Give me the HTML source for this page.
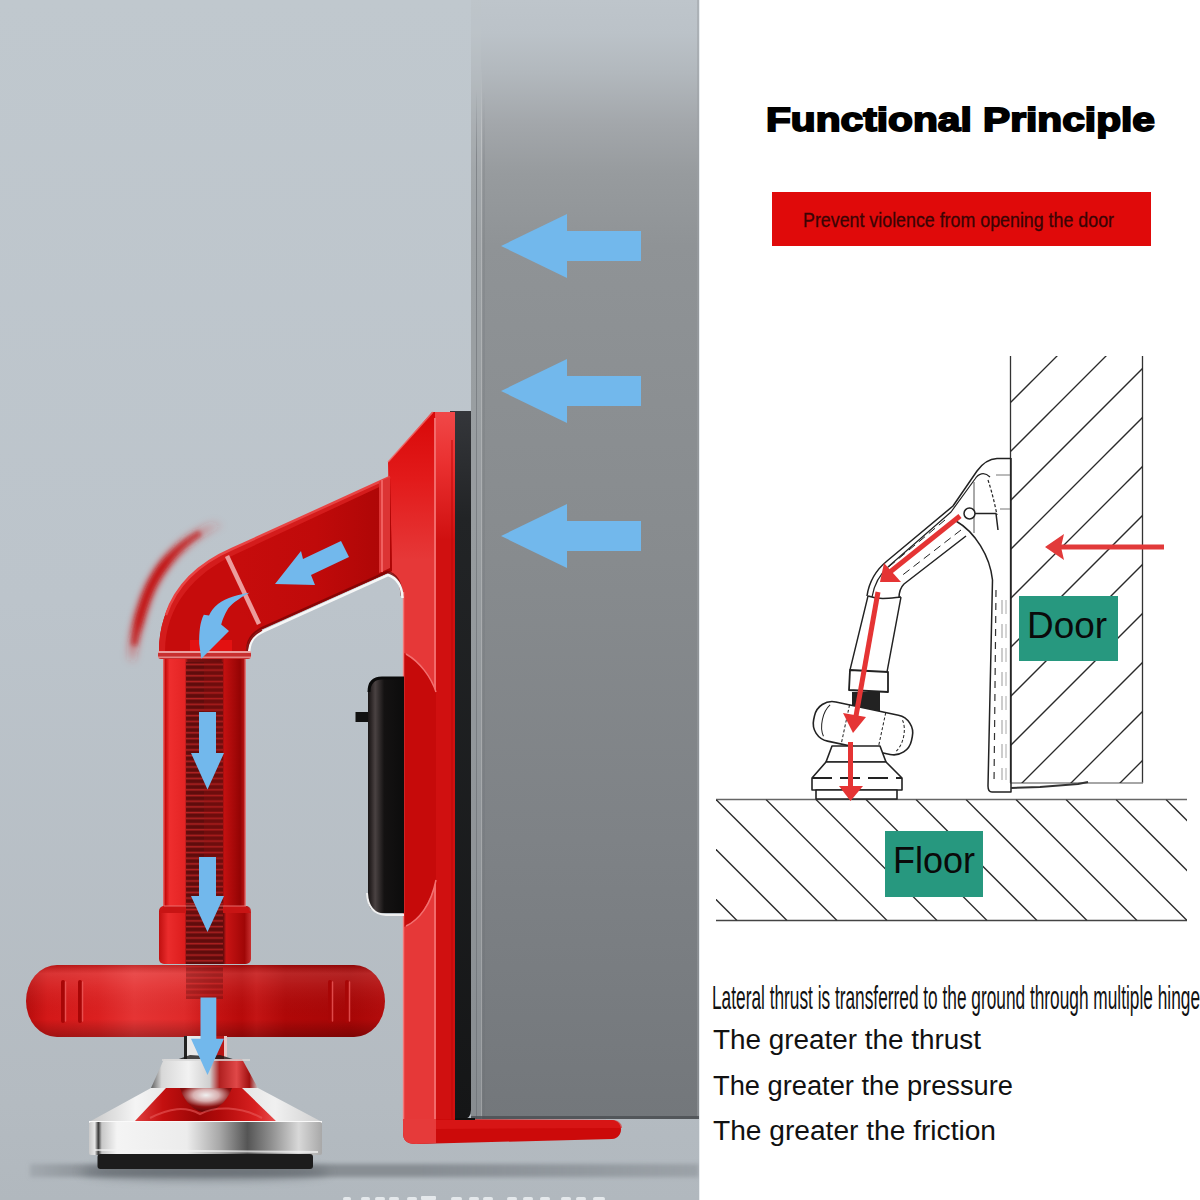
<!DOCTYPE html>
<html><head><meta charset="utf-8">
<style>
html,body{margin:0;padding:0;background:#fff;width:1200px;height:1200px;overflow:hidden}
svg{display:block;font-family:"Liberation Sans",sans-serif}
</style></head>
<body>
<svg width="1200" height="1200" viewBox="0 0 1200 1200">
<defs>
  <linearGradient id="bgL" x1="0" y1="0" x2="0" y2="1">
    <stop offset="0" stop-color="#c0c8ce"/>
    <stop offset="0.5" stop-color="#bcc4cb"/>
    <stop offset="0.92" stop-color="#b4bbc1"/>
    <stop offset="1" stop-color="#b1b8be"/>
  </linearGradient>
  <linearGradient id="door" x1="0" y1="0" x2="0" y2="1">
    <stop offset="0" stop-color="#c0c7cd"/>
    <stop offset="0.05" stop-color="#b4bbc1"/>
    <stop offset="0.13" stop-color="#9ca1a5"/>
    <stop offset="0.3" stop-color="#8b8f92"/>
    <stop offset="0.6" stop-color="#82868a"/>
    <stop offset="1" stop-color="#75797c"/>
  </linearGradient>
  <linearGradient id="redTube" x1="0" y1="0" x2="1" y2="0">
    <stop offset="0" stop-color="#b50606"/>
    <stop offset="0.2" stop-color="#e02424"/>
    <stop offset="0.5" stop-color="#c80c0c"/>
    <stop offset="1" stop-color="#a80404"/>
  </linearGradient>
  <linearGradient id="redHandle" x1="0" y1="0" x2="0" y2="1">
    <stop offset="0" stop-color="#d01616"/>
    <stop offset="0.35" stop-color="#e22a2a"/>
    <stop offset="1" stop-color="#b00606"/>
  </linearGradient>
  <linearGradient id="metal" x1="0" y1="0" x2="1" y2="0">
    <stop offset="0" stop-color="#8e9296"/>
    <stop offset="0.15" stop-color="#f0f0f0"/>
    <stop offset="0.4" stop-color="#d6d8da"/>
    <stop offset="0.6" stop-color="#6f7378"/>
    <stop offset="0.8" stop-color="#d8dadc"/>
    <stop offset="1" stop-color="#9a9ea2"/>
  </linearGradient>
  <filter id="blur3"><feGaussianBlur stdDeviation="3"/></filter>
  <filter id="blur1"><feGaussianBlur stdDeviation="1"/></filter>
</defs>

<!-- LEFT PANEL -->
<defs>
  <linearGradient id="door2" x1="0" y1="0" x2="0" y2="1119" gradientUnits="userSpaceOnUse">
    <stop offset="0" stop-color="#bec5cb"/>
    <stop offset="0.03" stop-color="#bbc2c8"/>
    <stop offset="0.065" stop-color="#b2b8bd"/>
    <stop offset="0.11" stop-color="#a3a7ab"/>
    <stop offset="0.155" stop-color="#979b9e"/>
    <stop offset="0.22" stop-color="#8f9396"/>
    <stop offset="0.5" stop-color="#878b8e"/>
    <stop offset="0.75" stop-color="#7e8286"/>
    <stop offset="1" stop-color="#73777b"/>
  </linearGradient>
  <linearGradient id="tubeG" x1="163" y1="0" x2="246" y2="0" gradientUnits="userSpaceOnUse">
    <stop offset="0" stop-color="#e87070"/>
    <stop offset="0.03" stop-color="#c80c0c"/>
    <stop offset="0.08" stop-color="#ee2e2e"/>
    <stop offset="0.26" stop-color="#e42424"/>
    <stop offset="0.3" stop-color="#7a1010"/>
    <stop offset="0.7" stop-color="#6a0c0c"/>
    <stop offset="0.74" stop-color="#c21010"/>
    <stop offset="0.93" stop-color="#940404"/>
    <stop offset="0.97" stop-color="#b01010"/>
    <stop offset="1" stop-color="#e89090"/>
  </linearGradient>
  <linearGradient id="collarG" x1="159" y1="0" x2="251" y2="0" gradientUnits="userSpaceOnUse">
    <stop offset="0" stop-color="#c01010"/>
    <stop offset="0.1" stop-color="#ea2c2c"/>
    <stop offset="0.28" stop-color="#dc1c1c"/>
    <stop offset="0.3" stop-color="#7a1010"/>
    <stop offset="0.7" stop-color="#6a0c0c"/>
    <stop offset="0.73" stop-color="#c81414"/>
    <stop offset="0.93" stop-color="#a00606"/>
    <stop offset="1" stop-color="#c83030"/>
  </linearGradient>
  <linearGradient id="handleH" x1="26" y1="0" x2="386" y2="0" gradientUnits="userSpaceOnUse">
    <stop offset="0" stop-color="#b80c0c"/>
    <stop offset="0.06" stop-color="#d41818"/>
    <stop offset="0.2" stop-color="#dc2020"/>
    <stop offset="0.3" stop-color="#e63434"/>
    <stop offset="0.44" stop-color="#e02a2a"/>
    <stop offset="0.52" stop-color="#c81414"/>
    <stop offset="0.6" stop-color="#b80a0a"/>
    <stop offset="0.64" stop-color="#c41414"/>
    <stop offset="0.72" stop-color="#b00808"/>
    <stop offset="0.9" stop-color="#a80606"/>
    <stop offset="1" stop-color="#b40c0c"/>
  </linearGradient>
  <linearGradient id="handleV" x1="0" y1="965" x2="0" y2="1037" gradientUnits="userSpaceOnUse">
    <stop offset="0" stop-color="#000" stop-opacity="0.15"/>
    <stop offset="0.12" stop-color="#fff" stop-opacity="0.12"/>
    <stop offset="0.3" stop-color="#fff" stop-opacity="0.06"/>
    <stop offset="0.75" stop-color="#000" stop-opacity="0"/>
    <stop offset="1" stop-color="#000" stop-opacity="0.25"/>
  </linearGradient>
  <linearGradient id="ringG" x1="89" y1="0" x2="322" y2="0" gradientUnits="userSpaceOnUse">
    <stop offset="0" stop-color="#c8c8c8"/>
    <stop offset="0.025" stop-color="#e8e8e8"/>
    <stop offset="0.04" stop-color="#3a3a3a"/>
    <stop offset="0.055" stop-color="#c8c8c8"/>
    <stop offset="0.12" stop-color="#f4f4f4"/>
    <stop offset="0.42" stop-color="#ececec"/>
    <stop offset="0.56" stop-color="#a8a8a8"/>
    <stop offset="0.68" stop-color="#555555"/>
    <stop offset="0.78" stop-color="#8e8e8e"/>
    <stop offset="0.9" stop-color="#d8d8d8"/>
    <stop offset="1" stop-color="#a8a8a8"/>
  </linearGradient>
  <linearGradient id="coneG" x1="89" y1="0" x2="322" y2="0" gradientUnits="userSpaceOnUse">
    <stop offset="0" stop-color="#c8c8c8"/>
    <stop offset="0.2" stop-color="#f4f4f4"/>
    <stop offset="0.5" stop-color="#dadada"/>
    <stop offset="0.8" stop-color="#f0f0f0"/>
    <stop offset="1" stop-color="#d0d0d0"/>
  </linearGradient>
  <linearGradient id="topConeG" x1="151" y1="0" x2="258" y2="0" gradientUnits="userSpaceOnUse">
    <stop offset="0" stop-color="#606060"/>
    <stop offset="0.1" stop-color="#d8d8d8"/>
    <stop offset="0.35" stop-color="#f2f2f2"/>
    <stop offset="0.55" stop-color="#cfcfcf"/>
    <stop offset="0.64" stop-color="#b02020"/>
    <stop offset="0.8" stop-color="#e04848"/>
    <stop offset="0.92" stop-color="#a01010"/>
    <stop offset="1" stop-color="#c8c8c8"/>
  </linearGradient>
  <linearGradient id="swooshG" x1="220" y1="520" x2="130" y2="665" gradientUnits="userSpaceOnUse">
    <stop offset="0" stop-color="#d83030" stop-opacity="0"/>
    <stop offset="0.4" stop-color="#c80a0a" stop-opacity="1"/>
    <stop offset="0.75" stop-color="#c80a0a" stop-opacity="0.95"/>
    <stop offset="1" stop-color="#d83030" stop-opacity="0"/>
  </linearGradient>
  <linearGradient id="shadowG" x1="0" y1="0" x2="699" y2="0" gradientUnits="userSpaceOnUse">
    <stop offset="0" stop-color="#858b91" stop-opacity="0.1"/>
    <stop offset="0.15" stop-color="#858b91" stop-opacity="0.95"/>
    <stop offset="0.6" stop-color="#858b91" stop-opacity="0.95"/>
    <stop offset="1" stop-color="#858b91" stop-opacity="0.5"/>
  </linearGradient>
  <pattern id="springP" x="0" y="660" width="10" height="5.7" patternUnits="userSpaceOnUse">
    <rect x="0" y="0" width="10" height="5.7" fill="#5c0c0c"/>
    <rect x="0" y="3.6" width="10" height="1.6" fill="#b82424"/>
  </pattern>
  <filter id="blurS" x="-50%" y="-50%" width="200%" height="200%"><feGaussianBlur stdDeviation="3.5"/></filter>
  <filter id="blurSh" x="-10%" y="-200%" width="120%" height="500%"><feGaussianBlur stdDeviation="5"/></filter>
  <filter id="blurS2" x="-50%" y="-50%" width="200%" height="200%"><feGaussianBlur stdDeviation="2.2"/></filter>
  <filter id="blur06"><feGaussianBlur stdDeviation="0.6"/></filter>
</defs>
<rect x="0" y="0" width="699" height="1200" fill="url(#bgL)"/>
<!-- shadow band -->
<rect x="30" y="1164" width="669" height="13" fill="url(#shadowG)" filter="url(#blurS2)"/>
<ellipse cx="205" cy="1172" rx="125" ry="8" fill="#5a6066" opacity="0.6" filter="url(#blurSh)"/>

<!-- door -->
<rect x="471" y="0" width="228" height="1119" fill="url(#door2)"/>
<defs><linearGradient id="edgeFade" x1="0" y1="0" x2="0" y2="1119" gradientUnits="userSpaceOnUse">
  <stop offset="0" stop-color="#fff" stop-opacity="0"/><stop offset="0.06" stop-color="#fff" stop-opacity="0"/><stop offset="0.12" stop-color="#fff" stop-opacity="0.6"/><stop offset="1" stop-color="#fff" stop-opacity="0.6"/>
</linearGradient>
<linearGradient id="edgeFadeD" x1="0" y1="0" x2="0" y2="1119" gradientUnits="userSpaceOnUse">
  <stop offset="0" stop-color="#60646a" stop-opacity="0"/><stop offset="0.08" stop-color="#60646a" stop-opacity="0"/><stop offset="0.14" stop-color="#60646a" stop-opacity="0.5"/><stop offset="1" stop-color="#60646a" stop-opacity="0.5"/>
</linearGradient></defs>
<rect x="471" y="0" width="10" height="1119" fill="#c0c5ca" opacity="0.28"/>
<rect x="481" y="0" width="1" height="1119" fill="url(#edgeFade)" opacity="0.5"/>
<rect x="476" y="0" width="1" height="1119" fill="url(#edgeFadeD)"/>
<rect x="483.5" y="0" width="1" height="1119" fill="url(#edgeFadeD)" opacity="0.6"/>
<rect x="697" y="0" width="2" height="1119" fill="#9ca0a4" opacity="0.5"/>
<rect x="471" y="1116" width="228" height="3" fill="#4a4e52" opacity="0.8"/>

<!-- door arrows -->
<g fill="#72b8ec">
  <path d="M501,246 L567,214 L567,231 L641,231 L641,261 L567,261 L567,278 Z"/>
  <path d="M501,391 L567,359 L567,376 L641,376 L641,406 L567,406 L567,423 Z"/>
  <path d="M501,536 L567,504 L567,521 L641,521 L641,551 L567,551 L567,568 Z"/>
</g>

<!-- swoosh -->
<path d="M222,522 C190,534 160,560 146,598 C138,620 133,640 131,662" stroke="url(#swooshG)" stroke-width="10" fill="none" filter="url(#blurS)"/>
<path d="M200,533 C175,548 156,570 146,598 C140,615 136,630 134,645" stroke="#c00808" stroke-width="6" fill="none" opacity="0.6" filter="url(#blurS2)"/>

<!-- black strip -->
<defs><linearGradient id="stripG" x1="0" y1="412" x2="0" y2="1119" gradientUnits="userSpaceOnUse">
  <stop offset="0" stop-color="#34363a"/><stop offset="0.15" stop-color="#222426"/><stop offset="1" stop-color="#151617"/>
</linearGradient></defs>
<path d="M450,411 L471,411 L471,1110 Q471,1119 463,1119 L450,1119 Z" fill="url(#stripG)"/>

<!-- plate upper -->
<defs>
  <linearGradient id="plateTopL" x1="0" y1="412" x2="0" y2="560" gradientUnits="userSpaceOnUse">
    <stop offset="0" stop-color="#d80808"/>
    <stop offset="0.45" stop-color="#e21a1a"/>
    <stop offset="1" stop-color="#e63838"/>
  </linearGradient>
  <linearGradient id="plateTopR" x1="0" y1="412" x2="0" y2="540" gradientUnits="userSpaceOnUse">
    <stop offset="0" stop-color="#f04848"/>
    <stop offset="0.4" stop-color="#ea3030"/>
    <stop offset="1" stop-color="#d01010"/>
  </linearGradient>
</defs>
<path d="M432,412 L455,412 L455,1121 L403,1121 L403,596 C403,586 398,577 390,572 L388,462 Z" fill="url(#plateTopL)"/>
<path d="M433,412 L455,412 L455,1121 L435,1121 L435,412 Z" fill="url(#plateTopR)"/>
<path d="M433,412 L388,462" stroke="#f07070" stroke-width="1.5" opacity="0.8"/>
<path d="M435,418 L435,1121" stroke="#f26a6a" stroke-width="2"/>
<path d="M452,440 L452,1121" stroke="#c00808" stroke-width="2" opacity="0.5"/>
<!-- lens bulge -->
<path d="M404,653 C418,660 430,675 436,692 L436,880 C430,905 418,920 404,927 Z" fill="#c60a0a"/>
<path d="M406,654 C420,662 431,677 436,692" stroke="#f27070" stroke-width="1.5" fill="none"/>
<path d="M436,880 C431,905 419,920 406,926" stroke="#f27070" stroke-width="1.5" fill="none"/>
<path d="M403.5,592 L403.5,1121" stroke="#f88a8a" stroke-width="1.5" opacity="0.8"/>
<!-- foot -->
<path d="M403,1119 L612,1120 C624,1121 624,1138 612,1139 L416,1144 C406,1144 403,1140 403,1132 Z" fill="#cc0a0a"/>
<path d="M403,1119 L436,1119 L436,1143 L416,1144 C406,1144 403,1140 403,1132 Z" fill="#e63a3a"/>
<path d="M436,1120 L612,1120 C620,1120 622,1125 622,1128 L436,1129 Z" fill="#de1c1c" opacity="0.6"/>
<path d="M455,1119 L475,1119" stroke="#111" stroke-width="2"/>

<!-- latch -->
<defs><linearGradient id="latchG" x1="368" y1="0" x2="404" y2="0" gradientUnits="userSpaceOnUse">
  <stop offset="0" stop-color="#1a1616"/><stop offset="0.08" stop-color="#2a2424"/><stop offset="0.2" stop-color="#4a4242"/><stop offset="0.45" stop-color="#141212"/><stop offset="1" stop-color="#0c0c0c"/>
</linearGradient></defs>
<rect x="355.5" y="712" width="13" height="10" fill="#111"/>
<path d="M404,677 L382,677 Q368,677 368,692 L368,899 Q368,913 382,913 L404,913 Z" fill="url(#latchG)"/>
<path d="M404,678 L382,678 Q369,678 369,692" stroke="#0a0a0a" stroke-width="3" fill="none"/>
<path d="M367,893 Q368,914 386,915 L404,915" stroke="#f0f0f0" stroke-width="2" fill="none"/>

<!-- arm + elbow -->
<path d="M390,477 L232,549 C188,569 159,602 159,652 L246,655 C246,643 250,635 262,629 L392,571 Z" fill="#c60c0c"/>
<defs><linearGradient id="armG" x1="240" y1="0" x2="390" y2="0" gradientUnits="userSpaceOnUse">
  <stop offset="0" stop-color="#c60c0c"/><stop offset="0.5" stop-color="#c00a0a"/><stop offset="1" stop-color="#ac0606"/>
</linearGradient></defs>
<path d="M390,477 L232,549 C214,557 200,567 190,578 L262,629 L392,571 Z" fill="url(#armG)"/>
<path d="M390,477 L232,549 C188,569 159,602 159,652 L165,652 C165,606 194,573 236,554 L390,482 Z" fill="#d41c1c"/>
<path d="M390,477 L232,549 C200,563 176,585 166,615" stroke="#e84444" stroke-width="2.5" fill="none"/>
<path d="M379,482 L390,477 L390,568 L379,573 Z" fill="#dc3434"/>
<path d="M382,480 L382,572" stroke="#f06060" stroke-width="2"/>
<!-- tube top glow -->
<rect x="190" y="640" width="42" height="18" fill="#f01414" opacity="0.7"/>
<!-- inner hole highlight -->
<path d="M247,653 C247,641 251,634 262,628 L387,572 C396,574 401,582 402,596" stroke="#7a0404" stroke-width="2.5" fill="none" opacity="0.8"/>
<path d="M249,655 C249,642 253,636 264,631 L388,575 C397,578 402,585 402.5,598" stroke="#f6f6f6" stroke-width="2.5" fill="none"/>
<path d="M247,655 C247,643 251,636 262,630" stroke="#8a1010" stroke-width="1.5" fill="none"/>
<!-- divider line -->
<path d="M227,556 L259,624" stroke="#ec9c9c" stroke-width="4.5"/>

<!-- tube -->
<rect x="163" y="656" width="83" height="252" fill="url(#tubeG)"/>
<rect x="186" y="662" width="37" height="246" fill="url(#springP)" opacity="0.9"/>
<rect x="204" y="662" width="19" height="246" fill="#a01010" opacity="0.25"/>
<rect x="158" y="651" width="93" height="8" rx="3" fill="#c83030"/>
<rect x="158" y="651" width="93" height="2" rx="1" fill="#f0b0b0" opacity="0.85"/>
<rect x="158" y="656.5" width="93" height="1.5" fill="#f0a8a8" opacity="0.7"/>
<!-- lower collar -->
<rect x="159" y="906" width="92" height="58" rx="5" fill="url(#collarG)"/>
<rect x="186" y="910" width="37" height="54" fill="url(#springP)" opacity="0.85"/>
<path d="M164,906 L246,906 L251,913 L159,913 Z" fill="#c81414"/>
<rect x="186" y="906" width="37" height="7" fill="url(#springP)" opacity="0.85"/>
<path d="M164,906 L246,906" stroke="#f08080" stroke-width="1.2" opacity="0.8"/>

<!-- T handle -->
<rect x="26" y="965" width="359" height="72" rx="31" ry="36" fill="url(#handleH)"/>
<rect x="26" y="965" width="359" height="72" rx="31" ry="36" fill="url(#handleV)"/>
<rect x="186" y="965" width="37" height="34" fill="url(#springP)" opacity="0.4"/>
<g stroke="#a80606" stroke-width="4" stroke-linecap="round">
  <path d="M63,982 L63,1021"/><path d="M80,982 L80,1021"/>
  <path d="M330,982 L330,1021"/><path d="M347,982 L347,1021"/>
</g>
<g stroke="#ec5a5a" stroke-width="1.5" stroke-linecap="round" opacity="0.8">
  <path d="M65.5,982 L65.5,1021"/><path d="M82.5,982 L82.5,1021"/>
  <path d="M332.5,982 L332.5,1021"/><path d="M349.5,982 L349.5,1021"/>
</g>

<!-- stem -->
<rect x="184" y="1036" width="43" height="24" fill="#e8e8e8"/>
<rect x="184" y="1036" width="3" height="24" fill="#222"/>
<rect x="214" y="1036" width="13" height="24" fill="#b81414"/>
<rect x="224" y="1036" width="3" height="24" fill="#e8c8c8"/>
<path d="M176,1060 L190,1055 L205,1056 L220,1055 L236,1060 Z" fill="#1a1a1a" opacity="0.8"/>
<!-- upper cone -->
<path d="M164,1059 L242,1059 L258,1088 L151,1088 Z" fill="url(#topConeG)"/>
<path d="M162,1060 L250,1060" stroke="#d8d8d8" stroke-width="2" opacity="0.8"/>
<!-- cone body -->
<defs>
  <linearGradient id="redRefl" x1="134" y1="0" x2="277" y2="0" gradientUnits="userSpaceOnUse">
    <stop offset="0" stop-color="#e04040"/>
    <stop offset="0.2" stop-color="#c41010"/>
    <stop offset="0.45" stop-color="#9a0606"/>
    <stop offset="0.6" stop-color="#b00a0a"/>
    <stop offset="0.85" stop-color="#d82020"/>
    <stop offset="1" stop-color="#e85050"/>
  </linearGradient>
  <radialGradient id="ballG" cx="0.4" cy="0.35" r="0.6">
    <stop offset="0" stop-color="#f8e8e8"/>
    <stop offset="0.4" stop-color="#c05050"/>
    <stop offset="1" stop-color="#700808"/>
  </radialGradient>
</defs>
<path d="M151,1088 L258,1088 L322,1122 L89,1122 Z" fill="url(#coneG)"/>
<path d="M166,1088 L242,1088 L277,1122 L134,1122 Z" fill="url(#redRefl)"/>
<defs><radialGradient id="jointG" cx="0.5" cy="0.3" r="0.7">
  <stop offset="0" stop-color="#f0f0f0"/><stop offset="0.35" stop-color="#d8b0b0"/><stop offset="0.7" stop-color="#8a1010"/><stop offset="1" stop-color="#600606"/>
</radialGradient></defs>
<path d="M180,1088 C185,1104 196,1112 205,1112 C214,1112 226,1104 232,1088 Z" fill="url(#jointG)"/>
<path d="M150,1118 C170,1108 185,1106 200,1114 C215,1106 240,1106 262,1118" stroke="#e85a5a" stroke-width="2" fill="none" opacity="0.6"/>
<path d="M89,1122 L322,1122" stroke="#fafafa" stroke-width="2"/>
<!-- ring -->
<rect x="89" y="1122" width="233" height="33" rx="2" fill="url(#ringG)"/>
<path d="M95,1150 L318,1152" stroke="#f4f4f4" stroke-width="2" opacity="0.7"/>
<rect x="97.5" y="1154" width="215.5" height="15" rx="3" fill="#1c1c1c"/>

<!-- blue arrows on device -->
<g fill="#72b8ec">
  <path d="M275,584 L301,551 L303,559 L341,541 L349,557 L311,575 L315,585 Z"/>
  <path d="M249.5,592.8 C240,594 226,598 218,604 C214,607 211,611 209,615.4 L203.8,614.7 C200,622 199,632 199.2,643.8 L201.3,658.7 L229,631 L221.2,624.6 C223,618 225,614 227,610.5 C230,605 238,599 249.5,592.8 Z"/>
  <path d="M199,712 L216,712 L216,753 L224,753 L207.5,789.5 L191,753 L199,753 Z"/>
  <path d="M199,857 L216,857 L216,896 L224,896 L207.5,932 L191,896 L199,896 Z"/>
  <path d="M200.5,997.5 L216.3,997.5 L216.3,1038.7 L224,1038.7 L207.5,1075 L191,1038.7 L200.5,1038.7 Z"/>
</g>
<!-- bottom white text tops -->
<g fill="#eef1f4" opacity="0.85" filter="url(#blur06)">
  <rect x="343" y="1197" width="8" height="4" rx="2"/>
  <rect x="361" y="1197" width="9" height="4" rx="2"/>
  <rect x="375" y="1197" width="10" height="4" rx="2"/>
  <rect x="389" y="1197" width="10" height="4" rx="2"/>
  <rect x="407" y="1197" width="10" height="4" rx="2"/>
  <rect x="421" y="1196" width="15" height="4" rx="1"/>
  <rect x="451" y="1197" width="11" height="4" rx="2"/>
  <rect x="469" y="1197" width="10" height="4" rx="2"/>
  <rect x="483" y="1197" width="10" height="4" rx="2"/>
  <rect x="507" y="1197" width="10" height="4" rx="2"/>
  <rect x="523" y="1197" width="10" height="4" rx="2"/>
  <rect x="540" y="1197" width="10" height="4" rx="2"/>
  <rect x="561" y="1197" width="10" height="4" rx="2"/>
  <rect x="576" y="1197" width="10" height="4" rx="2"/>
  <rect x="593" y="1197" width="12" height="4" rx="2"/>
</g>

<!-- RIGHT PANEL -->
<rect x="699" y="0" width="501" height="1200" fill="#ffffff"/>
<rect x="699" y="0" width="1" height="1200" fill="#e8ecef"/>

<text x="766" y="131" font-size="33" font-weight="bold" fill="#000" stroke="#000" stroke-width="1.8" textLength="389" lengthAdjust="spacingAndGlyphs">Functional Principle</text>

<rect x="772" y="192" width="379" height="54" fill="#e00a0a"/>
<text x="803" y="226.5" font-size="20" fill="#3a0404" stroke="#3a0404" stroke-width="0.3" textLength="311" lengthAdjust="spacingAndGlyphs">Prevent violence from opening the door</text>

<!-- door hatch -->
<defs>
  <clipPath id="doorClip"><rect x="1010" y="356" width="133" height="427"/></clipPath>
  <clipPath id="floorClip"><rect x="716" y="799.5" width="471" height="121"/></clipPath>
</defs>
<g stroke="#333" stroke-width="1.3" fill="none">
  <path d="M1010.5,356 L1010.5,783"/>
  <path d="M1142.5,356 L1142.5,783"/>
  <path d="M1010,783 L1143,783" stroke="#888"/>
</g>
<g clip-path="url(#doorClip)" stroke="#2a2a2a" stroke-width="1.3">
<path d="M1010,305 L1160,155"/>
<path d="M1010,354 L1160,204"/>
<path d="M1010,403 L1160,253"/>
<path d="M1010,452 L1160,302"/>
<path d="M1010,501 L1160,351"/>
<path d="M1010,550 L1160,400"/>
<path d="M1010,599 L1160,449"/>
<path d="M1010,648 L1160,498"/>
<path d="M1010,697 L1160,547"/>
<path d="M1010,746 L1160,596"/>
<path d="M1010,795 L1160,645"/>
<path d="M1010,844 L1160,694"/>
<path d="M1010,893 L1160,743"/>
<path d="M1010,942 L1160,792"/>
<path d="M1010,991 L1160,841"/>
<path d="M1010,1040 L1160,890"/>
</g>
<!-- floor -->
<g stroke="#444" stroke-width="1.6" fill="none">
  <path d="M716,799.5 L1187,799.5" stroke="#666" stroke-width="1.4"/>
  <path d="M716,920.5 L1187,920.5"/>
</g>
<g clip-path="url(#floorClip)" stroke="#2a2a2a" stroke-width="1.3">
<path d="M566,799.5 L687,920.5"/>
<path d="M616,799.5 L737,920.5"/>
<path d="M666,799.5 L787,920.5"/>
<path d="M716,799.5 L837,920.5"/>
<path d="M766,799.5 L887,920.5"/>
<path d="M816,799.5 L937,920.5"/>
<path d="M866,799.5 L987,920.5"/>
<path d="M916,799.5 L1037,920.5"/>
<path d="M966,799.5 L1087,920.5"/>
<path d="M1016,799.5 L1137,920.5"/>
<path d="M1066,799.5 L1187,920.5"/>
<path d="M1116,799.5 L1237,920.5"/>
<path d="M1166,799.5 L1287,920.5"/>
<path d="M1216,799.5 L1337,920.5"/>
</g>
<rect x="1019" y="596" width="99" height="65" fill="#27987f"/>
<text x="1027" y="638" font-size="37" fill="#0a0a0a" textLength="80" lengthAdjust="spacingAndGlyphs">Door</text>
<rect x="885" y="831" width="98" height="66" fill="#27987f"/>
<text x="893" y="873" font-size="37" fill="#0a0a0a" textLength="82" lengthAdjust="spacingAndGlyphs">Floor</text>


<!-- diagram device drawing -->
<g stroke="#222" stroke-width="1.5" fill="none" stroke-linejoin="round">
  <!-- bracket -->
  <path d="M1011,458.5 L997,458.5 C988,459 982,464 977,471 L953,506 L887,561 C876,570 869,582 867,596"/>
  <path d="M990,477 C984,471 978,474 975,479 L951,512 L889,566 C880,574 874,585 872,597" stroke-width="1.2"/>
  <path d="M1011,458 L1011,792 L992,792 C989,792 988,789 988,786 L992.5,580"/>
  <path d="M992.5,580 C990,556 975,532 956,521"/>
  <path d="M966,536 L904,584 C900,588 899,592 899,598"/>
  <path d="M961,530 L900,577" stroke-width="1" stroke-dasharray="8 5"/>
  <path d="M945,520 L885,570" stroke-width="1" stroke-dasharray="8 5"/>
  <path d="M974,482 L974,533" stroke="#555" stroke-width="1"/>
  <path d="M996,475 L1010,475 M1000,509 L1010,509" stroke="#777" stroke-width="1"/>
  <path d="M975,513.5 L996,513.5 L998,530"/>
  <path d="M988,480 C992,492 995,505 997,515" stroke-dasharray="3 2" stroke-width="1.2"/>
  <path d="M996,590 L994,785" stroke="#333" stroke-width="1.2" stroke-dasharray="7 6"/>
  <path d="M1002,600 L1002,780" stroke="#999" stroke-width="1" stroke-dasharray="14 10"/>
  <path d="M1006,600 L1006,780" stroke="#aaa" stroke-width="1" stroke-dasharray="14 10"/>
  <path d="M1011,788 L1040,787 L1078,784 L1088,782" stroke="#333" stroke-width="2"/>
  <circle cx="969.5" cy="513.5" r="5.5" fill="#fff"/>
  <!-- lower tube -->
  <path d="M868,596 L850,670 M901,597 L887,672" stroke-width="1.4"/>
  <path d="M868,596 C880,600 890,598 901,597"/>
  <path d="M850,670 L888,672 L888,692 L849,690 Z" stroke-width="1.8"/>
  <rect x="852" y="692" width="28" height="20" fill="#222" stroke="none"/>
  <!-- T handle -->
  <g transform="rotate(12 862 728)">
    <rect x="813" y="708" width="100" height="40" rx="18" fill="#fff" stroke-width="1.6"/>
    <path d="M826,712 C820,720 820,736 826,744" stroke-width="1"/>
    <path d="M900,712 C906,720 906,736 900,744" stroke-width="1" stroke-dasharray="3 2"/>
    <path d="M845,708 L845,748 M882,708 L882,748" stroke-width="1" stroke-dasharray="3 2"/>
  </g>
  <!-- base -->
  <path d="M832,746 L880,746 L886,762 L826,762 Z" fill="#fff" stroke-width="1.6"/>
  <path d="M826,762 L886,762 L902,778 L902,790 L812,790 L812,778 Z" fill="#fff" stroke-width="1.6"/>
  <path d="M812,778 L902,778" stroke-dasharray="20 8" stroke-width="1.8"/>
  <path d="M816,790 L897,790 L897,799 L816,799 Z" fill="#fff" stroke-width="1.6"/>
</g>
<!-- red arrows in diagram -->
<g stroke="#e53434" stroke-width="5" fill="none" stroke-linecap="butt">
  <path d="M960,516 L890,572"/>
  <path d="M878,592 L856,716"/>
  <path d="M850.5,742 L850.5,786"/>
</g>
<g fill="#e53434">
  <path d="M880,582 L884,563 L901,582 Z"/>
  <path d="M853,733 L843,713 L866,717 Z"/>
  <path d="M850.5,801 L839,786 L863,786 Z"/>
</g>

<!-- red door arrow -->
<g fill="#e23a3a" stroke="none">
  <rect x="1058" y="544.5" width="106" height="5"/>
  <path d="M1045,547 L1064,534 L1061,547 L1064,560 Z"/>
</g>

<!-- texts -->
<text x="712" y="1009" font-size="34" fill="#111" textLength="488" lengthAdjust="spacingAndGlyphs">Lateral thrust is transferred to the ground through multiple hinge</text>
<text x="713" y="1049" font-size="27" fill="#111" textLength="268" lengthAdjust="spacingAndGlyphs">The greater the thrust</text>
<text x="713" y="1095" font-size="27" fill="#111" textLength="300" lengthAdjust="spacingAndGlyphs">The greater the pressure</text>
<text x="713" y="1140" font-size="27" fill="#111" textLength="283" lengthAdjust="spacingAndGlyphs">The greater the friction</text>
</svg>
</body></html>
